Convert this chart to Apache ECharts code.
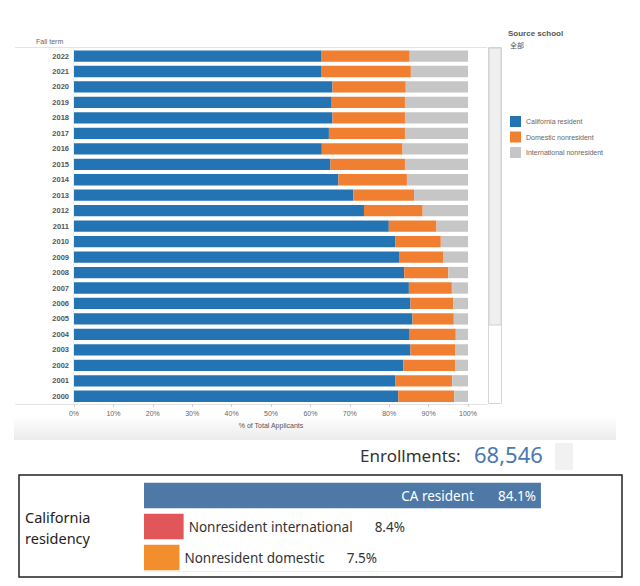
<!DOCTYPE html>
<html>
<head>
<meta charset="utf-8">
<style>
  html, body { margin: 0; padding: 0; background: #fff; }
  #chart { width: 640px; height: 586px; }
</style>
<script src="https://cdn.jsdelivr.net/npm/echarts@6/dist/echarts.min.js"></script>
</head>
<body>
<div id="chart"></div>
<script>
// fall terms, top to bottom
const years = ['2022', '2021', '2020', '2019', '2018', '2017', '2016', '2015', '2014', '2013', '2012', '2011',
  '2010', '2009', '2008', '2007', '2006', '2005', '2004', '2003', '2002', '2001', '2000'];
// % of total applicants
const caResident = [62.7, 62.7, 65.6, 65.4, 65.6, 64.7, 62.9, 65.1, 67.1, 70.9, 73.6, 79.9,
  81.6, 82.5, 83.8, 85.0, 85.4, 85.9, 85.2, 85.4, 83.6, 81.5, 82.3];
const domesticNonresident = [22.5, 22.8, 18.6, 18.6, 18.4, 19.3, 20.5, 18.9, 17.4, 15.4, 14.9, 12.1,
  11.5, 11.3, 11.2, 10.9, 10.9, 10.5, 11.7, 11.3, 13.1, 14.5, 14.2];
const intlNonresident = [14.8, 14.5, 15.8, 16.0, 16.0, 16.0, 16.6, 16.0, 15.5, 13.7, 11.5, 8.0,
  6.9, 6.2, 5.0, 4.1, 3.7, 3.6, 3.1, 3.3, 3.3, 4.0, 3.5];
const seriesNames = ['California resident', 'Domestic nonresident', 'International nonresident'];

// enrollment summary
const enrollments = '68,546';
const residencyCats = ['CA resident', 'Nonresident international', 'Nonresident domestic'];
const residencyPct = [84.1, 8.4, 7.5];

const topColors = ['#2474b3', '#f07f31', '#c6c6c6'];
const residencyColors = ['#4e79a7', '#e15759', '#f28e2b'];

const chart = echarts.init(document.getElementById('chart'), null, { renderer: 'svg' });

const smallFont = 'Liberation Sans, Arial, sans-serif';
const tabFont = 'Noto Sans, sans-serif';

const stackSeries = [caResident, domesticNonresident, intlNonresident].map((vals, i) => ({
  name: seriesNames[i],
  type: 'bar',
  stack: 'all',
  xAxisIndex: 0,
  yAxisIndex: 0,
  barCategoryGap: '27%',
  itemStyle: { color: topColors[i] },
  emphasis: { disabled: true },
  data: vals
}));

const residencySeries = {
  type: 'bar',
  xAxisIndex: 1,
  yAxisIndex: 1,
  barCategoryGap: '18%',
  silent: true,
  data: residencyPct.map((v, i) => ({
    value: v,
    itemStyle: { color: residencyColors[i] },
    label: i === 0 ? {
      show: true,
      position: 'insideRight',
      distance: 5,
      formatter: '{n|' + residencyCats[i] + '}{v|' + v.toFixed(1) + '%}',
      rich: {
        n: { color: '#fff', fontSize: 13.5, fontFamily: tabFont },
        v: { color: '#fff', fontSize: 13.5, fontFamily: tabFont, padding: [0, 0, 0, 24] }
      }
    } : {
      show: true,
      position: 'right',
      distance: 5,
      formatter: '{n|' + residencyCats[i] + '}{v|' + v.toFixed(1) + '%}',
      rich: {
        n: { color: '#333', fontSize: 13.5, fontFamily: tabFont },
        v: { color: '#333', fontSize: 13.5, fontFamily: tabFont, padding: [0, 0, 0, 22] }
      }
    }
  }))
};

chart.setOption({
  animation: false,
  backgroundColor: '#fff',
  legend: {
    data: seriesNames,
    orient: 'vertical',
    left: 510,
    top: 116,
    padding: 0,
    itemWidth: 11,
    itemHeight: 11,
    itemGap: 4.5,
    icon: 'rect',
    selectedMode: false,
    textStyle: { fontSize: 7, color: '#666', fontFamily: smallFont }
  },
  grid: [
    { left: 74, right: 172, top: 48.3, bottom: 182, containLabel: false },
    { left: 144, width: 472, top: 480, height: 93, containLabel: false }
  ],
  xAxis: [
    {
      type: 'value',
      gridIndex: 0,
      min: 0,
      max: 100,
      interval: 10,
      axisLine: { show: false },
      axisTick: { show: true, length: 3, lineStyle: { color: '#cfcfcf' } },
      splitLine: { show: false },
      axisLabel: { fontSize: 7, color: '#666', margin: 6, fontFamily: smallFont, formatter: '{value}%' },
      name: '% of Total Applicants',
      nameLocation: 'middle',
      nameGap: 17,
      nameTextStyle: { fontSize: 7, color: '#555', fontFamily: smallFont }
    },
    {
      type: 'value',
      gridIndex: 1,
      min: 0,
      max: 100,
      show: false
    }
  ],
  yAxis: [
    {
      type: 'category',
      gridIndex: 0,
      data: years,
      inverse: true,
      axisLine: { show: false },
      axisTick: { show: false },
      axisLabel: { fontSize: 7.5, fontWeight: 'bold', color: '#555', margin: 5, fontFamily: smallFont }
    },
    {
      type: 'category',
      gridIndex: 1,
      data: residencyCats,
      inverse: true,
      show: false
    }
  ],
  series: [...stackSeries, residencySeries],
  graphic: [
    // faint band behind the axis title
    {
      type: 'rect', z: -10, silent: true,
      shape: { x: 14, y: 416, width: 602, height: 24 },
      style: {
        fill: new echarts.graphic.LinearGradient(0, 0, 0, 1, [
          { offset: 0, color: '#ffffff' }, { offset: 1, color: '#ebebeb' }
        ])
      }
    },
    // header / frame lines of the top view
    { type: 'line', silent: true, shape: { x1: 15, y1: 47.5, x2: 487, y2: 47.5 }, style: { stroke: '#e3e3e3', lineWidth: 1 } },
    { type: 'line', silent: true, shape: { x1: 15, y1: 404.5, x2: 487, y2: 404.5 }, style: { stroke: '#e3e3e3', lineWidth: 1 } },
    { type: 'line', silent: true, shape: { x1: 73.5, y1: 47.5, x2: 73.5, y2: 404.5 }, style: { stroke: '#eeeeee', lineWidth: 1 } },
    // scrollbar
    { type: 'rect', silent: true, shape: { x: 488.5, y: 47.5, width: 13, height: 356 }, style: { fill: '#fff', stroke: '#d6d6d6', lineWidth: 1 } },
    { type: 'rect', silent: true, shape: { x: 489, y: 48, width: 12, height: 277 }, style: { fill: '#efefef', stroke: '#d0d0d0', lineWidth: 1 } },
    // titles
    { type: 'text', silent: true, left: 36, top: 38, style: { text: 'Fall term', fontSize: 7, fill: '#666', fontFamily: smallFont } },
    { type: 'text', silent: true, left: 508, top: 29, style: { text: 'Source school', fontSize: 8, fontWeight: 'bold', fill: '#555', fontFamily: smallFont } },
    { type: 'text', silent: true, left: 510, top: 41, style: { text: '全部', fontSize: 7, fill: '#555', fontFamily: 'Noto Sans CJK SC, sans-serif' } },
    // enrollments
    { type: 'text', silent: true, left: 360, top: 447, style: { text: 'Enrollments:', fontSize: 17, fill: '#333', fontFamily: tabFont } },
    { type: 'text', silent: true, left: 474, top: 443, style: { text: enrollments, fontSize: 22, fill: '#4a78b0', fontFamily: tabFont } },
    { type: 'rect', silent: true, shape: { x: 555, y: 443, width: 18, height: 27 }, style: { fill: '#f1f1f1' } },
    // residency box
    { type: 'rect', silent: true, shape: { x: 19, y: 475, width: 603, height: 102 }, style: { fill: 'none', stroke: '#222', lineWidth: 1.5 } },
    { type: 'line', silent: true, shape: { x1: 144, y1: 571.5, x2: 615, y2: 571.5 }, style: { stroke: '#eeeeee', lineWidth: 1 } },
    { type: 'text', silent: true, left: 25, top: 506, style: { text: 'California\nresidency', fontSize: 14.5, lineHeight: 21, fill: '#222', fontFamily: tabFont } }
  ]
});
</script>
</body>
</html>
